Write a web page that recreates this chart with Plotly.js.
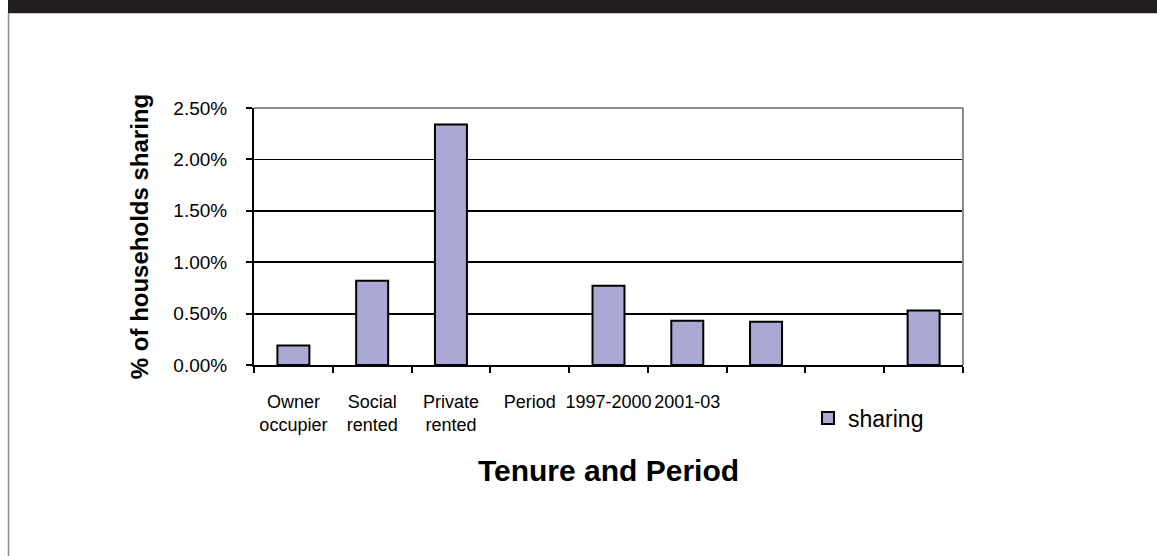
<!DOCTYPE html>
<html>
<head>
<meta charset="utf-8">
<script src="https://cdn.plot.ly/plotly-3.0.1.min.js"></script>
<style>
html,body{margin:0;padding:0;background:#fff;}
#chart{width:1157px;height:556px;}
</style>
</head>
<body>
<div id="chart"></div>
<script>
// Data
var categories = ["Owner<br>occupier", "Social<br>rented", "Private<br>rented", "Period", "1997-2000", "2001-03", " ", "  ", "   "];
var sharing = [0.19, 0.82, 2.34, null, 0.77, 0.43, 0.42, null, 0.53];
var yTickVals = [0, 0.5, 1.0, 1.5, 2.0, 2.5];
var yTickText = ["0.00%", "0.50%", "1.00%", "1.50%", "2.00%", "2.50%"];
var seriesName = "sharing";
var xTitle = "Tenure and Period";
var yTitle = "% of households sharing";

// Layout geometry (pixels)
var W = 1157, H = 556;
var L = 254, R = 963, T = 108, B = 365;
var pw = R - L, ph = B - T;
function px(x){ return (x - L) / pw; }
function py(y){ return (B - y) / ph; }

var font = "Liberation Sans, Arial, sans-serif";

var trace = {
  type: "bar",
  x: categories,
  y: sharing,
  name: seriesName,
  marker: {color: "#aaa9d5", line: {color: "#000000", width: 2}},
  showlegend: true,
  hoverinfo: "x+y"
};

var layout = {
  width: W, height: H,
  margin: {l: L, r: W - R, t: T, b: H - B, pad: 0},
  paper_bgcolor: "#ffffff",
  plot_bgcolor: "#ffffff",
  font: {family: font, color: "#000000", size: 18},
  bargap: 0.594,
  showlegend: true,
  legend: {
    x: px(808), xanchor: "left",
    y: py(418), yanchor: "middle",
    font: {size: 23, family: font},
    bgcolor: "rgba(0,0,0,0)"
  },
  xaxis: {
    type: "category",
    categoryorder: "array",
    categoryarray: categories,
    tickson: "boundaries",
    tickangle: 0,
    ticks: "outside", ticklen: 6, tickwidth: 2, tickcolor: "#000",
    showline: true, linecolor: "#000", linewidth: 2,
    showgrid: false, zeroline: false,
    tickfont: {size: 18, family: font},
    ticklabelstandoff: 19,
    title: {text: xTitle, font: {size: 30, family: font, weight: "bold"}, standoff: 26},
    fixedrange: true
  },
  yaxis: {
    range: [0, 2.5],
    tickmode: "array",
    tickvals: yTickVals,
    ticktext: yTickText,
    ticks: "outside", ticklen: 6, tickwidth: 2, tickcolor: "#000",
    showline: true, linecolor: "#000", linewidth: 2,
    showgrid: true, gridcolor: "#000", gridwidth: 1.8,
    zeroline: false,
    tickfont: {size: 19, family: font},
    ticklabelstandoff: 15,
    title: {text: yTitle, font: {size: 24, family: font, weight: "bold"}, standoff: 18},
    fixedrange: true
  },
  shapes: [
    {type: "rect", xref: "paper", yref: "paper", layer: "above",
     x0: px(8), x1: px(W + 2), y0: py(13), y1: py(-2),
     fillcolor: "#231f20", line: {width: 0}},
    {type: "line", xref: "paper", yref: "paper", layer: "above",
     x0: px(8), x1: px(W + 2), y0: py(13.5), y1: py(13.5),
     line: {color: "#c8c8c8", width: 1}},
    {type: "line", xref: "paper", yref: "paper", layer: "above",
     x0: px(8.5), x1: px(8.5), y0: py(13), y1: py(H + 2),
     line: {color: "#8a8a8a", width: 1.5}},
    {type: "line", xref: "paper", yref: "paper", layer: "above",
     x0: 0, x1: 1, y0: 1, y1: 1,
     line: {color: "#8c8c8c", width: 2}},
    {type: "line", xref: "paper", yref: "paper", layer: "above",
     x0: 1, x1: 1, y0: 0, y1: 1,
     line: {color: "#8c8c8c", width: 2}}
  ]
};

Plotly.newPlot("chart", [trace], layout, {displayModeBar: false, staticPlot: true});
</script>
</body>
</html>
